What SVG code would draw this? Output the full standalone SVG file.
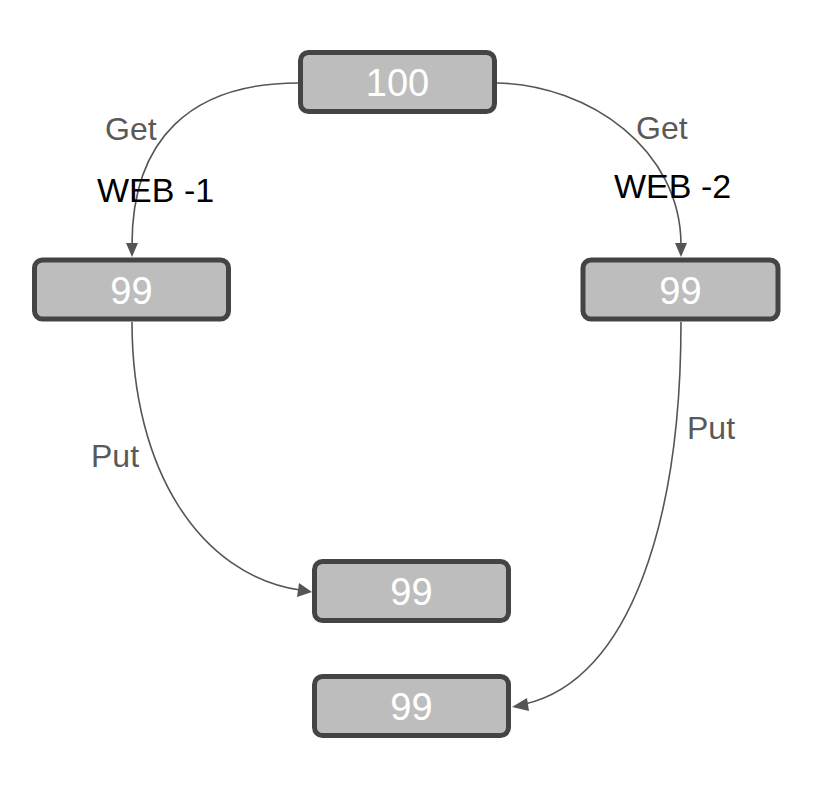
<svg xmlns="http://www.w3.org/2000/svg" width="838" height="792" viewBox="0 0 838 792">
<style>
.node rect{fill:#bdbdbd;stroke:#444;stroke-width:5}
.node text{fill:#fff;font-family:"Liberation Sans",Arial,sans-serif;font-size:38px;text-anchor:middle}
.edge{fill:none;stroke:#555;stroke-width:1.6}
.head{fill:#555}
.lbl{fill:#595959;font-family:"Liberation Sans",Arial,sans-serif;font-size:32px}
.web{fill:#000;font-family:"Liberation Sans",Arial,sans-serif;font-size:34px}
</style>
<rect width="838" height="792" fill="#fff"/>
<g id="connectors">
<path class="edge" d="M298,83 C190,83 132,140 132,245"/>
<path class="edge" d="M497,83 C590,85 681,150 681,245"/>
<path class="edge" d="M132,322 C132,470 200,575 300,590"/>
<path class="edge" d="M681,322 C681,520 630,680 525,704"/>
<path class="head" d="M126,243 L138,243 L132,257 z"/>
<path class="head" d="M675,243 L687,243 L681,257 z"/>
<path class="head" d="M299,583 L312,592 L297,597 z"/>
<path class="head" d="M527,698 L512,707 L529,711 z"/>
</g>
<g id="labels">
<text class="lbl" x="105" y="140">Get</text>
<text class="web" x="97" y="202">WEB -1</text>
<text class="lbl" x="636" y="139">Get</text>
<text class="web" x="614" y="198">WEB -2</text>
<text class="lbl" x="91" y="467">Put</text>
<text class="lbl" x="687" y="439">Put</text>
</g>
<g id="n100" class="node"><rect x="300.5" y="52.5" width="194" height="59" rx="8"/><text x="397.5" y="96">100</text></g>
<g id="n99a" class="node"><rect x="34.5" y="260" width="194" height="59" rx="8"/><text x="131.5" y="304">99</text></g>
<g id="n99b" class="node"><rect x="583" y="260" width="195" height="59" rx="8"/><text x="680.5" y="304">99</text></g>
<g id="n99c" class="node"><rect x="314.5" y="561.5" width="194" height="59" rx="8"/><text x="411.5" y="605">99</text></g>
<g id="n99d" class="node"><rect x="314.5" y="676.5" width="194" height="59" rx="8"/><text x="411.5" y="720">99</text></g>
</svg>
